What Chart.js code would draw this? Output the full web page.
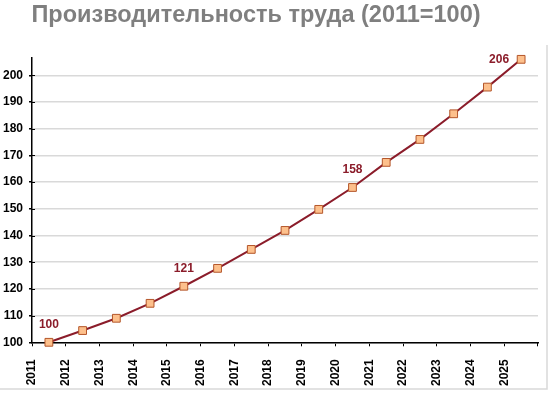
<!DOCTYPE html>
<html>
<head>
<meta charset="utf-8">
<script src="https://cdn.jsdelivr.net/npm/chart.js@4/dist/chart.umd.min.js"></script>
<style>
  html, body { margin: 0; padding: 0; background: #fff; }
  #wrap { width: 550px; height: 396px; }
</style>
</head>
<body>
<div id="wrap"><canvas id="laborChart" width="550" height="396"></canvas></div>
<script>
// Chart data
const titleText = 'Производительность труда (2011=100)';
const years = ['2011', '2012', '2013', '2014', '2015', '2016', '2017', '2018',
               '2019', '2020', '2021', '2022', '2023', '2024', '2025'];
const productivity = [100, 104.4, 109, 114.6, 121, 127.7, 134.8, 141.9,
                      149.8, 158, 167.4, 176, 185.6, 195.6, 206];
const labeledYears = ['2011', '2015', '2020', '2025'];
const yTicks = [100, 110, 120, 130, 140, 150, 160, 170, 180, 190, 200];

const lineColor = '#8b1c2a';

// points sit in the middle of each year slot
const points = productivity.map((v, i) => ({ x: i + 0.5, y: v }));

// title, frame and value labels
const decorPlugin = {
    id: 'decor',
    beforeDraw(chart) {
        const c = chart.ctx;
        c.save();
        c.strokeStyle = '#d9d9d9';
        c.lineWidth = 1.5;
        c.beginPath();
        c.moveTo(547, 45);
        c.lineTo(547, 389);
        c.lineTo(0, 389);
        c.stroke();
        c.restore();
    },
    afterDraw(chart) {
        const c = chart.ctx;
        c.save();
        c.fillStyle = '#7f7f7f';
        c.font = 'bold 23.5px "Liberation Sans", Arial, sans-serif';
        c.textAlign = 'center';
        c.textBaseline = 'alphabetic';
        c.fillText(titleText, 256, 22);

        // small ticks crossing the y axis
        const ys = chart.scales.y;
        c.strokeStyle = '#000';
        c.lineWidth = 1;
        ys.ticks.forEach(t => {
            const py = Math.round(ys.getPixelForValue(t.value)) + 0.5;
            c.beginPath();
            c.moveTo(ys.right, py);
            c.lineTo(ys.right + 3, py);
            c.stroke();
        });
        // closing tick at the end of the x axis
        const xs = chart.scales.x;
        const ex = Math.round(xs.getPixelForValue(years.length)) - 0.5;
        c.beginPath();
        c.moveTo(ex, xs.top);
        c.lineTo(ex, xs.top + 4);
        c.stroke();

        const meta = chart.getDatasetMeta(0);
        c.fillStyle = lineColor;
        c.font = 'bold 12px "Liberation Sans", Arial, sans-serif';
        c.textAlign = 'center';
        c.textBaseline = 'middle';
        years.forEach((yr, i) => {
            if (!labeledYears.includes(yr)) return;
            const el = meta.data[i];
            const txt = String(Math.round(productivity[i]));
            if (i === years.length - 1) {
                c.fillText(txt, el.x - 22, el.y);
            } else {
                c.fillText(txt, el.x, el.y - 18);
            }
        });
        c.restore();
    }
};

new Chart(document.getElementById('laborChart'), {
    type: 'line',
    data: {
        datasets: [{
            data: points,
            borderColor: lineColor,
            borderWidth: 2,
            pointStyle: 'rect',
            pointRadius: 5.5,
            pointBackgroundColor: '#fdc08c',
            pointBorderColor: '#b4562a',
            pointBorderWidth: 1,
            tension: 0,
            clip: false
        }]
    },
    options: {
        responsive: false,
        animation: false,
        layout: { padding: { top: 58, right: 12, bottom: -3, left: -3 } },
        plugins: {
            legend: { display: false },
            tooltip: { enabled: false },
            title: { display: false }
        },
        scales: {
            x: {
                type: 'linear',
                min: 0,
                max: years.length,
                afterBuildTicks: axis => { axis.ticks = years.map((y, i) => ({ value: i })); },
                grid: { drawOnChartArea: false, tickLength: 4, color: '#000' },
                border: { color: '#000', width: 1.5 },
                ticks: {
                    autoSkip: false,
                    minRotation: 90,
                    maxRotation: 90,
                    padding: 13,
                    color: '#000',
                    font: { family: '"Liberation Sans", Arial, sans-serif', size: 12, weight: 'bold' },
                    callback: v => years[v] || ''
                }
            },
            y: {
                min: 100,
                max: 206.5,
                afterBuildTicks: axis => { axis.ticks = yTicks.map(v => ({ value: v })); },
                grid: {
                    color: '#d9d9d9',
                    lineWidth: 1.5,
                    tickLength: 3,
                    tickColor: '#000'
                },
                border: { color: '#000', width: 1.5 },
                ticks: {
                    padding: 6,
                    color: '#000',
                    font: { family: '"Liberation Sans", Arial, sans-serif', size: 12, weight: 'bold' }
                }
            }
        }
    },
    plugins: [decorPlugin]
});
</script>
</body>
</html>
